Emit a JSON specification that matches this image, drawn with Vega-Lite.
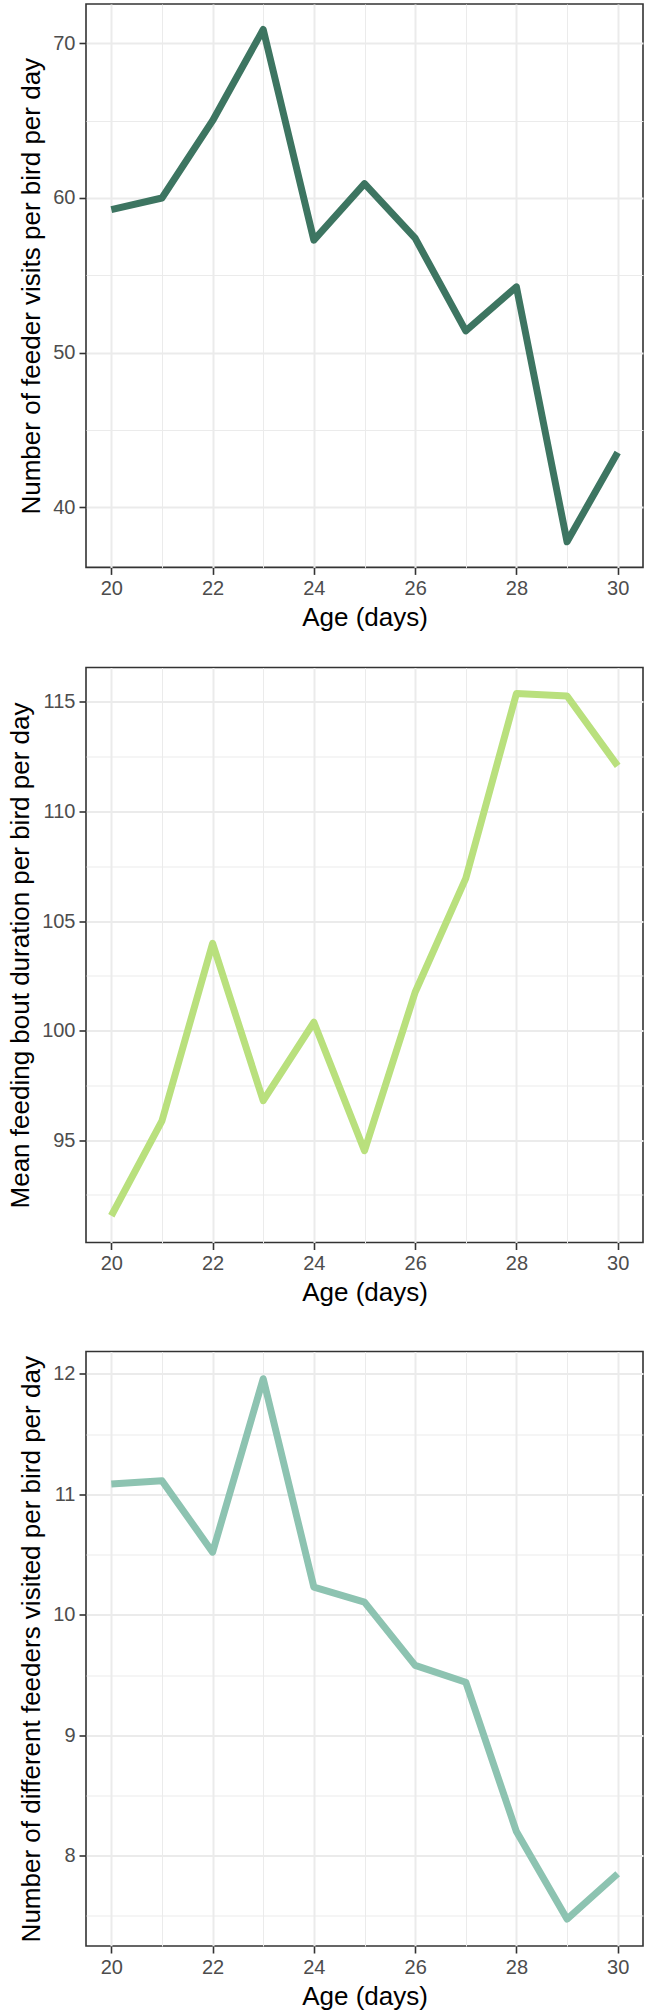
{
  "$schema": "https://vega.github.io/schema/vega-lite/v6.json",
  "padding": {"left": 6, "top": 3, "right": 0, "bottom": 0},
  "background": "white",
  "datasets": {
    "birds": [
      {"age": 20, "visits": 59.25, "duration": 91.55, "feeders": 11.085},
      {"age": 21, "visits": 60.0, "duration": 95.88, "feeders": 11.113},
      {"age": 22, "visits": 65.0, "duration": 103.98, "feeders": 10.52},
      {"age": 23, "visits": 70.9, "duration": 96.8, "feeders": 11.96},
      {"age": 24, "visits": 57.27, "duration": 100.38, "feeders": 10.23},
      {"age": 25, "visits": 60.93, "duration": 94.52, "feeders": 10.105},
      {"age": 26, "visits": 57.4, "duration": 101.75, "feeders": 9.58},
      {"age": 27, "visits": 51.4, "duration": 106.95, "feeders": 9.44},
      {"age": 28, "visits": 54.25, "duration": 115.38, "feeders": 8.2},
      {"age": 29, "visits": 37.76, "duration": 115.27, "feeders": 7.474},
      {"age": 30, "visits": 43.53, "duration": 112.08, "feeders": 7.85}
    ]
  },
  "spacing": 43.5,
  "vconcat": [
    {
      "spacing": 34.5,
      "vconcat": [
        {
          "data": {"name": "birds"},
          "width": 557,
          "height": 563.4,
          "mark": {"type": "line", "color": "#3D7561", "strokeWidth": 7, "strokeJoin": "round", "strokeCap": "butt"},
          "encoding": {
            "x": {"field": "age", "type": "quantitative", "scale": {"domain": [19.5, 30.5], "nice": false, "zero": false},
              "axis": {"title": "Age (days)", "values": [20,21,22,23,24,25,26,27,28,29,30],
                "labelExpr": "datum.value % 2 === 0 ? datum.label : ''",
                "tickOpacity": {"condition": {"test": "datum.value % 2 === 0", "value": 1}, "value": 0},
                "gridWidth": {"condition": {"test": "datum.value % 2 === 0", "value": 2}, "value": 1}}},
            "y": {"field": "visits", "type": "quantitative", "scale": {"domain": [36.1, 72.55], "nice": false, "zero": false},
              "axis": {"title": "Number of feeder visits per bird per day", "values": [40,45,50,55,60,65,70],
                "labelExpr": "datum.value % 10 === 0 ? datum.label : ''",
                "tickOpacity": {"condition": {"test": "datum.value % 10 === 0", "value": 1}, "value": 0},
                "gridWidth": {"condition": {"test": "datum.value % 10 === 0", "value": 2}, "value": 1}}}
          }
        },
        {
          "data": {"name": "birds"},
          "width": 557,
          "height": 575,
          "mark": {"type": "line", "color": "#B9E07D", "strokeWidth": 7, "strokeJoin": "round", "strokeCap": "butt"},
          "encoding": {
            "x": {"field": "age", "type": "quantitative", "scale": {"domain": [19.5, 30.5], "nice": false, "zero": false},
              "axis": {"title": "Age (days)", "values": [20,21,22,23,24,25,26,27,28,29,30],
                "labelExpr": "datum.value % 2 === 0 ? datum.label : ''",
                "tickOpacity": {"condition": {"test": "datum.value % 2 === 0", "value": 1}, "value": 0},
                "gridWidth": {"condition": {"test": "datum.value % 2 === 0", "value": 2}, "value": 1}}},
            "y": {"field": "duration", "type": "quantitative", "scale": {"domain": [90.33, 116.57], "nice": false, "zero": false},
              "axis": {"title": "Mean feeding bout duration per bird per day", "values": [92.5,95,97.5,100,102.5,105,107.5,110,112.5,115],
                "labelExpr": "datum.value % 5 === 0 ? format(datum.value, 'd') : ''",
                "tickOpacity": {"condition": {"test": "datum.value % 5 === 0", "value": 1}, "value": 0},
                "gridWidth": {"condition": {"test": "datum.value % 5 === 0", "value": 2}, "value": 1}}}
          }
        }
      ]
    },
    {
      "data": {"name": "birds"},
      "width": 557,
      "height": 594.5,
      "mark": {"type": "line", "color": "#8DC3B1", "strokeWidth": 7, "strokeJoin": "round", "strokeCap": "butt"},
      "encoding": {
        "x": {"field": "age", "type": "quantitative", "scale": {"domain": [19.5, 30.5], "nice": false, "zero": false},
          "axis": {"title": "Age (days)", "values": [20,21,22,23,24,25,26,27,28,29,30],
            "labelExpr": "datum.value % 2 === 0 ? datum.label : ''",
            "tickOpacity": {"condition": {"test": "datum.value % 2 === 0", "value": 1}, "value": 0},
            "gridWidth": {"condition": {"test": "datum.value % 2 === 0", "value": 2}, "value": 1}}},
        "y": {"field": "feeders", "type": "quantitative", "scale": {"domain": [7.25, 12.186], "nice": false, "zero": false},
          "axis": {"title": "Number of different feeders visited per bird per day", "values": [7.5,8,8.5,9,9.5,10,10.5,11,11.5,12],
            "labelExpr": "datum.value % 1 === 0 ? format(datum.value, 'd') : ''",
            "tickOpacity": {"condition": {"test": "datum.value % 1 === 0", "value": 1}, "value": 0},
            "gridWidth": {"condition": {"test": "datum.value % 1 === 0", "value": 2}, "value": 1}}}
      }
    }
  ],
  "config": {
    "font": "Liberation Sans",
    "view": {"stroke": "#333333", "strokeWidth": 1.6},
    "axis": {
      "labelFont": "Liberation Sans",
      "labelFontSize": 20,
      "labelColor": "#4D4D4D",
      "labelPadding": 4,
      "labelFlush": false,
      "labelOverlap": false,
      "titleFont": "Liberation Sans",
      "titleFontSize": 26,
      "titleFontWeight": "normal",
      "titleColor": "#000000",
      "titlePadding": 6,
      "tickColor": "#333333",
      "tickWidth": 1.6,
      "tickSize": 7,
      "domain": false,
      "gridColor": "#EBEBEB"
    },
    "axisY": {"titlePadding": 8}
  }
}
